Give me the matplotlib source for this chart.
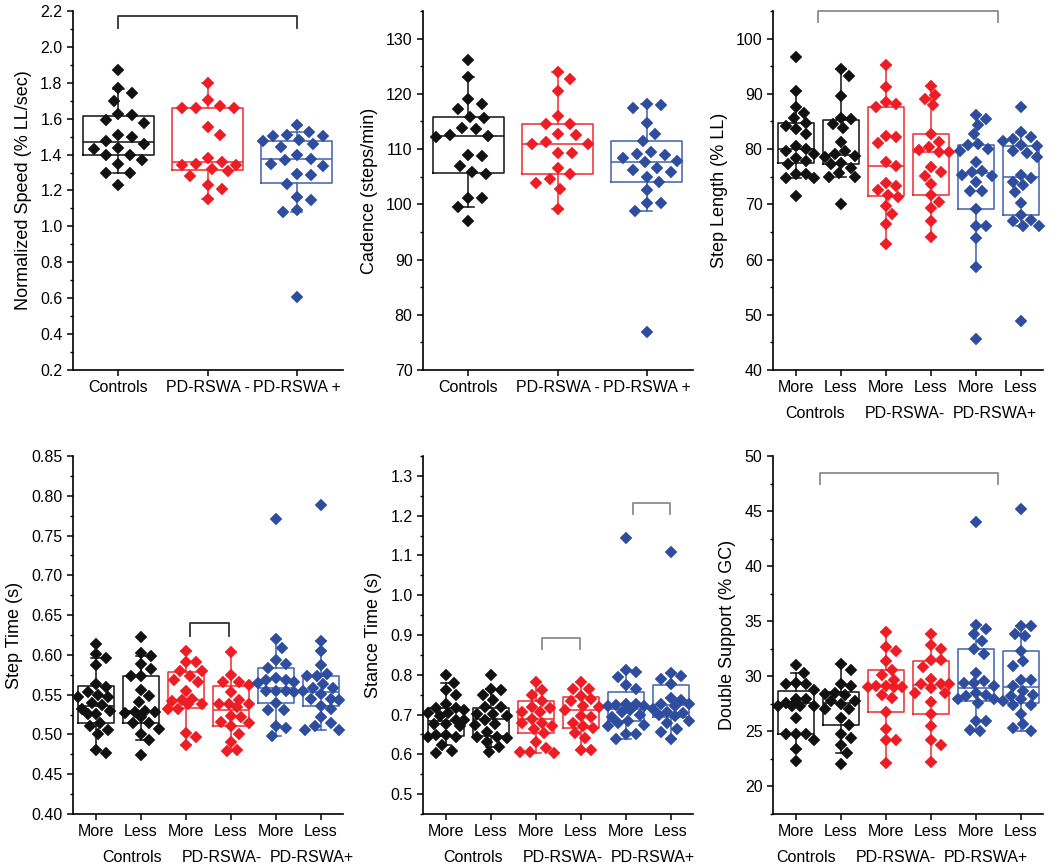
import matplotlib
matplotlib.use("Agg")
import matplotlib.pyplot as plt
import numpy as np
from matplotlib.ticker import AutoMinorLocator, MultipleLocator, FormatStrFormatter

plt.rcParams['font.family'] = ['Liberation Sans', 'DejaVu Sans']

W, H = 1050, 868

groups = ["Controls", "PD-RSWA-", "PD-RSWA+"]
groups3 = ["Controls", "PD-RSWA -", "PD-RSWA +"]
sides = ["More", "Less"]
colors = ["#111111", "#ee1c24", "#2e4d9f"]
box_colors = ["#111111", "#f02a30", "#4060b0"]

# box stats per box: whislo, q1, median, q3, whishi

# Normalized speed
speed_ctrl = [1.87, 1.77, 1.745, 1.70, 1.625, 1.62, 1.59, 1.575, 1.51, 1.50, 1.475,
              1.46, 1.435, 1.43, 1.40, 1.40, 1.37, 1.345, 1.30, 1.30, 1.23]
speed_neg = [1.80, 1.705, 1.67, 1.66, 1.66, 1.66, 1.552, 1.51, 1.38, 1.357, 1.35,
             1.34, 1.34, 1.32, 1.31, 1.283, 1.23, 1.21, 1.15]
speed_pos = [1.565, 1.526, 1.51, 1.505, 1.504, 1.48, 1.476, 1.46, 1.443, 1.396, 1.376,
             1.368, 1.35, 1.336, 1.294, 1.285, 1.238, 1.165, 1.147, 1.09, 1.082, 0.605]
speed_box = [[1.297, 1.398, 1.472, 1.617, 1.765],
             [1.15, 1.314, 1.357, 1.66, 1.80],
             [1.082, 1.24, 1.376, 1.478, 1.524]]

# Cadence
cad_ctrl = [126.1, 123.0, 119.0, 118.1, 117.3, 115.8, 115.7, 113.8, 113.7, 112.5, 112.4,
            112.2, 109.0, 108.8, 107.0, 105.8, 105.4, 101.2, 101.1, 99.6, 96.9]
cad_neg = [124.0, 122.6, 120.6, 115.9, 114.6, 114.6, 112.7, 112.5, 111.2, 111.0, 111.0,
           109.3, 109.2, 106.5, 105.4, 104.6, 103.9, 102.8, 99.1]
cad_pos = [118.2, 118.0, 117.4, 114.8, 112.8, 111.4, 109.5, 109.1, 109.0, 108.3, 107.9,
           107.6, 106.6, 106.3, 105.8, 105.0, 104.0, 102.6, 100.2, 100.2, 98.7, 76.8]
cad_box = [[99.6, 105.7, 112.4, 115.8, 123.0],
           [99.1, 105.4, 111.0, 114.6, 124.0],
           [98.7, 104.0, 107.6, 111.4, 118.2]]

# Step length
sl_ctrl_more = [96.6, 90.5, 87.6, 86.5, 85.6, 84.7, 84.2, 83.7, 82.7, 80.6, 80.0, 79.6,
                79.1, 78.4, 77.8, 77.3, 75.5, 75.5, 74.7, 74.7, 71.5]
sl_ctrl_less = [94.5, 93.2, 89.7, 85.7, 85.5, 84.6, 83.9, 81.3, 79.6, 79.1, 78.7, 78.5,
                77.4, 77.3, 76.6, 75.6, 75.0, 74.9, 70.1]
sl_neg_more = [95.2, 91.3, 88.5, 88.1, 87.6, 82.3, 82.2, 81.1, 77.6, 76.9, 73.8, 73.4,
               72.6, 71.6, 71.4, 69.7, 68.2, 66.4, 62.9]
sl_neg_less = [91.5, 89.8, 89.0, 87.9, 82.7, 81.3, 80.4, 79.9, 79.4, 79.4, 76.7, 75.8,
               75.2, 73.6, 71.7, 70.5, 69.4, 66.9, 64.0]
sl_pos_more = [86.2, 85.5, 84.4, 82.7, 81.0, 80.8, 80.1, 79.6, 77.6, 76.1, 75.8, 75.3,
               75.2, 74.0, 72.4, 72.4, 69.2, 66.0, 66.0, 63.9, 58.6, 45.6]
sl_pos_less = [87.7, 83.1, 82.1, 81.9, 81.5, 80.8, 80.5, 79.6, 79.3, 78.6, 75.3, 74.8,
               74.0, 73.5, 72.2, 70.3, 68.0, 67.1, 66.9, 66.0, 66.0, 48.9]
sl_box = [[74.7, 77.4, 80.0, 84.7, 90.5], [75.0, 77.3, 79.0, 85.3, 94.5],
          [62.9, 71.5, 77.0, 87.6, 95.2], [64.0, 71.6, 79.5, 82.7, 91.5],
          [58.6, 69.2, 75.6, 80.8, 86.2], [66.0, 68.1, 75.0, 80.5, 83.0]]

# Step time
st_ctrl_more = [0.614, 0.601, 0.596, 0.587, 0.563, 0.560, 0.553, 0.550, 0.547, 0.547, 0.539,
                0.537, 0.532, 0.529, 0.526, 0.526, 0.514, 0.510, 0.506, 0.501, 0.480, 0.477]
st_ctrl_less = [0.622, 0.603, 0.599, 0.589, 0.582, 0.574, 0.573, 0.556, 0.548, 0.541, 0.530,
                0.528, 0.528, 0.527, 0.522, 0.514, 0.514, 0.507, 0.501, 0.493, 0.474]
st_neg_more = [0.605, 0.591, 0.591, 0.580, 0.580, 0.574, 0.569, 0.566, 0.555, 0.544, 0.543,
               0.542, 0.538, 0.538, 0.532, 0.532, 0.502, 0.497, 0.487]
st_neg_less = [0.604, 0.575, 0.566, 0.566, 0.562, 0.553, 0.543, 0.538, 0.538, 0.538, 0.534,
               0.523, 0.522, 0.516, 0.514, 0.510, 0.500, 0.491, 0.480, 0.479]
st_pos_more = [0.771, 0.620, 0.609, 0.594, 0.589, 0.584, 0.571, 0.569, 0.569, 0.566, 0.565,
               0.555, 0.555, 0.555, 0.553, 0.539, 0.531, 0.531, 0.510, 0.508, 0.498]
st_pos_less = [0.789, 0.618, 0.605, 0.587, 0.576, 0.574, 0.574, 0.563, 0.559, 0.558, 0.555,
               0.551, 0.545, 0.545, 0.543, 0.536, 0.532, 0.522, 0.515, 0.511, 0.506, 0.506]
st_box = [[0.480, 0.514, 0.536, 0.561, 0.596], [0.493, 0.514, 0.530, 0.574, 0.599],
          [0.487, 0.533, 0.543, 0.578, 0.605], [0.479, 0.510, 0.531, 0.561, 0.604],
          [0.498, 0.539, 0.559, 0.584, 0.620], [0.506, 0.536, 0.553, 0.574, 0.618]]

# Stance time
sn_ctrl_more = [0.799, 0.779, 0.761, 0.749, 0.727, 0.717, 0.717, 0.712, 0.703, 0.703, 0.697,
                0.687, 0.687, 0.676, 0.676, 0.671, 0.648, 0.648, 0.643, 0.643, 0.624, 0.609, 0.603]
sn_ctrl_less = [0.799, 0.765, 0.761, 0.748, 0.737, 0.718, 0.718, 0.702, 0.702, 0.696, 0.687,
                0.676, 0.675, 0.656, 0.644, 0.644, 0.642, 0.632, 0.619, 0.605]
sn_neg_more = [0.782, 0.761, 0.748, 0.735, 0.720, 0.717, 0.707, 0.707, 0.690, 0.680, 0.680,
               0.672, 0.664, 0.654, 0.630, 0.617, 0.607, 0.605, 0.603]
sn_neg_less = [0.782, 0.764, 0.763, 0.747, 0.739, 0.735, 0.722, 0.720, 0.712, 0.697, 0.693,
               0.680, 0.672, 0.665, 0.653, 0.641, 0.611, 0.611]
sn_pos_more = [1.144, 0.812, 0.808, 0.795, 0.774, 0.764, 0.727, 0.727, 0.725, 0.722, 0.722,
               0.712, 0.707, 0.698, 0.695, 0.685, 0.678, 0.674, 0.670, 0.651, 0.651, 0.638]
sn_pos_less = [1.109, 0.804, 0.797, 0.789, 0.776, 0.741, 0.737, 0.727, 0.727, 0.722, 0.715,
               0.707, 0.703, 0.698, 0.697, 0.685, 0.678, 0.663, 0.655, 0.638]
sn_box = [[0.624, 0.647, 0.685, 0.716, 0.779], [0.619, 0.646, 0.690, 0.716, 0.765],
          [0.603, 0.654, 0.689, 0.734, 0.782], [0.611, 0.665, 0.712, 0.745, 0.781],
          [0.638, 0.683, 0.713, 0.756, 0.812], [0.638, 0.695, 0.723, 0.774, 0.804]]

# Double support
ds_ctrl_more = [31.0, 30.3, 29.4, 29.3, 29.3, 28.8, 27.9, 27.9, 27.6, 27.3, 27.3, 27.3,
                27.3, 26.2, 24.8, 24.8, 24.8, 24.2, 23.4, 22.3]
ds_ctrl_less = [31.1, 30.6, 29.3, 29.1, 28.5, 28.4, 28.3, 27.8, 27.8, 27.5, 27.0, 27.0,
                26.2, 25.6, 24.8, 24.4, 23.8, 23.0, 22.0]
ds_neg_more = [34.0, 32.7, 32.3, 31.4, 30.6, 30.1, 29.7, 29.1, 29.1, 29.0, 29.0, 29.0,
               28.3, 28.0, 26.8, 25.2, 24.2, 24.2, 22.1]
ds_neg_less = [33.8, 32.8, 32.5, 31.5, 31.5, 30.8, 29.8, 29.3, 29.3, 29.3, 28.9, 28.5,
               28.5, 27.7, 26.6, 25.5, 24.2, 23.8, 22.2]
ds_pos_more = [44.0, 34.7, 34.3, 33.8, 33.2, 32.5, 32.0, 30.3, 29.6, 29.4, 29.4, 29.1,
               28.5, 28.3, 28.2, 27.9, 27.9, 27.6, 25.9, 25.9, 25.1, 25.0]
ds_pos_less = [45.2, 34.6, 34.6, 33.8, 33.7, 32.3, 31.4, 30.9, 29.7, 29.7, 29.1, 28.7,
               28.3, 28.2, 27.9, 27.8, 27.4, 27.4, 26.6, 25.7, 25.3, 25.0]
ds_box = [[23.4, 24.8, 27.6, 28.7, 30.3], [23.0, 25.6, 27.6, 28.6, 31.1],
          [22.1, 26.8, 29.1, 30.6, 34.0], [22.2, 26.6, 29.2, 31.4, 33.8],
          [25.0, 27.8, 28.9, 32.5, 34.7], [25.0, 27.6, 29.0, 32.3, 34.6]]


def px_axes(fig, left, top, right, bottom):
    return fig.add_axes([left / W, 1 - bottom / H, (right - left) / W, (bottom - top) / H])


def swarm_offsets(ax, pos, vals, max_px, d):
    # simple beeswarm: put each point as near the centre as it can go without overlap
    tr = ax.transData
    x0 = tr.transform((pos, 0))[0]
    ppx = tr.transform((pos + 1, 0))[0] - x0
    ys = [tr.transform((pos, v))[1] for v in vals]
    order = np.argsort(vals)[::-1]
    placed = []
    offs = np.zeros(len(vals))
    cands = [0.0]
    step = 2.0
    k = 1
    while k * step <= max_px:
        cands += [k * step, -k * step]
        k += 1
    for i in order:
        best, best_gap = 0.0, -1
        for c in cands:
            gap = min([np.hypot(c - px, ys[i] - py) for px, py in placed] or [1e9])
            if gap >= d:
                best = c
                break
            if gap > best_gap:
                best, best_gap = c, gap
        placed.append((best, ys[i]))
        offs[i] = best / ppx
    return offs


def draw_panel(ax, values, stats, cols, bcols, max_px, capw, d):
    for i, (v, s) in enumerate(zip(values, stats)):
        pos = i + 1
        st = dict(whislo=s[0], q1=s[1], med=s[2], q3=s[3], whishi=s[4], fliers=[])
        lp = dict(color=bcols[i], lw=1.1)
        ax.bxp([st], positions=[pos], widths=0.8, capwidths=capw, showfliers=False,
               boxprops=lp, medianprops=lp, whiskerprops=lp, capprops=lp,
               manage_ticks=False)
        offs = swarm_offsets(ax, pos, v, max_px, d)
        ax.plot(pos + offs, v, "D", color=cols[i], ms=5.7, mec=cols[i], mew=0.3,
                zorder=3, clip_on=False)


def style_axes(ax, ylim, major, fmt, ylabel):
    ax.set_ylim(*ylim)
    ax.yaxis.set_major_locator(MultipleLocator(major))
    ax.yaxis.set_minor_locator(AutoMinorLocator(2))
    ax.yaxis.set_major_formatter(FormatStrFormatter(fmt))
    for sp in ["top", "right"]:
        ax.spines[sp].set_visible(False)
    for sp in ["left", "bottom"]:
        ax.spines[sp].set_linewidth(1.2)
    ax.tick_params(axis="both", which="major", direction="out", length=4, width=1.1,
                   labelsize=11.5, pad=3.5)
    ax.tick_params(axis="y", which="minor", direction="out", length=2.5, width=1.0)
    ax.tick_params(axis="x", which="minor", bottom=False)
    ax.set_ylabel(ylabel, fontsize=13, labelpad=6)


def bracket(ax, x1, x2, ylo, yhi, color):
    ax.plot([x1, x1, x2, x2], [ylo, yhi, yhi, ylo], color=color, lw=1.3,
            clip_on=False, zorder=4)


def six_panel(ax, values, stats, ylim, major, fmt, ylabel, gshift):
    ax.set_xlim(0.49, 6.49)
    style_axes(ax, ylim, major, fmt, ylabel)
    c6 = [c for c in colors for _ in sides]
    b6 = [c for c in box_colors for _ in sides]
    draw_panel(ax, values, stats, c6, b6, 19, 0.22, 10)
    ax.set_xticks(range(1, 7))
    ax.set_xticklabels(sides * 3)
    for g, name in enumerate(groups):
        ax.annotate(name, xy=(2 * g + 1.5 + gshift, 0), xycoords=("data", "axes fraction"),
                    xytext=(0, -31), textcoords="offset points", ha="center", va="center",
                    fontsize=11.5)


def three_panel(ax, values, stats, ylim, major, fmt, ylabel):
    ax.set_xlim(0.49, 3.52)
    style_axes(ax, ylim, major, fmt, ylabel)
    draw_panel(ax, values, stats, colors, box_colors, 34, 0.12, 13)
    ax.set_xticks(range(1, 4))
    ax.set_xticklabels(groups3)


fig = plt.figure(figsize=(W / 100, H / 100), dpi=100)

ax1 = px_axes(fig, 73, 11, 343, 370)
three_panel(ax1, [speed_ctrl, speed_neg, speed_pos], speed_box, (0.2, 2.2), 0.2, "%.1f",
            "Normalized Speed (% LL/sec)")
bracket(ax1, 1, 3, 2.107, 2.174, "#333333")

ax2 = px_axes(fig, 423, 11, 693, 370)
three_panel(ax2, [cad_ctrl, cad_neg, cad_pos], cad_box, (70, 135), 10, "%d",
            "Cadence (steps/min)")

ax3 = px_axes(fig, 773, 11, 1043, 370)
six_panel(ax3, [sl_ctrl_more, sl_ctrl_less, sl_neg_more, sl_neg_less, sl_pos_more, sl_pos_less],
          sl_box, (40, 105), 10, "%d", "Step Length (% LL)", -0.07)
bracket(ax3, 1.5, 5.5, 103, 105, "#8c8c8c")

ax4 = px_axes(fig, 73, 456, 343, 814)
six_panel(ax4, [st_ctrl_more, st_ctrl_less, st_neg_more, st_neg_less, st_pos_more, st_pos_less],
          st_box, (0.40, 0.85), 0.05, "%.2f", "Step Time (s)", 0.3)
bracket(ax4, 3.09, 3.96, 0.624, 0.640, "#333333")

ax5 = px_axes(fig, 423, 456, 693, 814)
six_panel(ax5, [sn_ctrl_more, sn_ctrl_less, sn_neg_more, sn_neg_less, sn_pos_more, sn_pos_less],
          sn_box, (0.45, 1.35), 0.1, "%.1f", "Stance Time (s)", 0.1)
bracket(ax5, 3.13, 3.98, 0.864, 0.893, "#8c8c8c")
bracket(ax5, 5.15, 5.99, 1.203, 1.232, "#8c8c8c")

ax6 = px_axes(fig, 773, 456, 1043, 814)
six_panel(ax6, [ds_ctrl_more, ds_ctrl_less, ds_neg_more, ds_neg_less, ds_pos_more, ds_pos_less],
          ds_box, (17.5, 50), 5, "%d", "Double Support (% GC)", -0.27)
bracket(ax6, 1.53, 5.5, 47.44, 48.46, "#8c8c8c")

fig.savefig("out.png", dpi=100)
